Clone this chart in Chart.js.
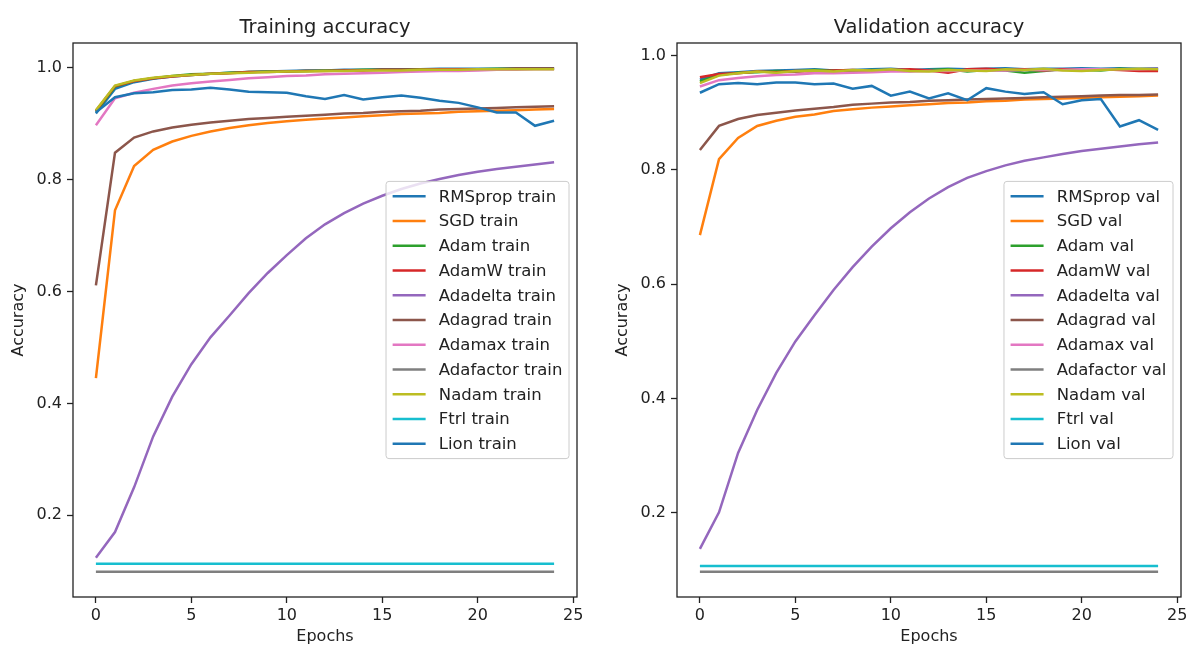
<!DOCTYPE html>
<html>
<head>
<meta charset="utf-8">
<script src="https://cdn.jsdelivr.net/npm/chart.js@4.4.1/dist/chart.umd.min.js"></script>
<style>
  html, body { margin: 0; padding: 0; background: #fff; }
  body { width: 1187px; height: 646px; position: relative; overflow: hidden; }
  canvas { position: absolute; top: 0; }
  #trainChart { left: 0; }
  #valChart { left: 604px; }
</style>
</head>
<body>
<canvas id="trainChart" width="600" height="646"></canvas>
<canvas id="valChart" width="583" height="646"></canvas>
<script>
const epochs = [0, 1, 2, 3, 4, 5, 6, 7, 8, 9, 10, 11, 12, 13, 14, 15, 16, 17, 18, 19, 20, 21, 22, 23, 24];
const optimizers = ['RMSprop', 'SGD', 'Adam', 'AdamW', 'Adadelta', 'Adagrad', 'Adamax', 'Adafactor', 'Nadam', 'Ftrl', 'Lion'];
const lineColors = ['#1f77b4', '#ff7f0e', '#2ca02c', '#d62728', '#9467bd', '#8c564b', '#e377c2', '#7f7f7f', '#bcbd22', '#17becf', '#1f77b4'];
const epochTicks = [0, 5, 10, 15, 20, 25];
const accuracyTicks = [0.2, 0.4, 0.6, 0.8, 1.0];

// training accuracy per epoch
const rmspropTrain = [0.918, 0.962, 0.974, 0.980, 0.984, 0.987, 0.989, 0.991, 0.992, 0.993, 0.994, 0.995, 0.995, 0.996, 0.996, 0.997, 0.997, 0.997, 0.998, 0.998, 0.998, 0.998, 0.999, 0.999, 0.999];
const sgdTrain = [0.445, 0.745, 0.824, 0.853, 0.868, 0.878, 0.886, 0.892, 0.897, 0.901, 0.904, 0.907, 0.909, 0.911, 0.913, 0.915, 0.917, 0.918, 0.919, 0.921, 0.922, 0.923, 0.924, 0.925, 0.926];
const adamTrain = [0.921, 0.966, 0.976, 0.981, 0.985, 0.988, 0.989, 0.991, 0.992, 0.993, 0.993, 0.994, 0.995, 0.995, 0.996, 0.996, 0.996, 0.997, 0.997, 0.997, 0.997, 0.998, 0.998, 0.998, 0.998];
const adamwTrain = [0.923, 0.967, 0.976, 0.981, 0.984, 0.987, 0.989, 0.990, 0.992, 0.992, 0.993, 0.994, 0.994, 0.995, 0.995, 0.996, 0.996, 0.996, 0.997, 0.997, 0.997, 0.997, 0.998, 0.998, 0.998];
const adadeltaTrain = [0.124, 0.170, 0.250, 0.341, 0.412, 0.470, 0.518, 0.557, 0.597, 0.633, 0.665, 0.695, 0.720, 0.740, 0.757, 0.771, 0.783, 0.793, 0.801, 0.808, 0.814, 0.819, 0.823, 0.827, 0.831];
const adagradTrain = [0.611, 0.848, 0.875, 0.886, 0.893, 0.898, 0.902, 0.905, 0.908, 0.910, 0.912, 0.914, 0.916, 0.918, 0.919, 0.921, 0.922, 0.923, 0.925, 0.926, 0.927, 0.928, 0.929, 0.930, 0.931];
const adamaxTrain = [0.897, 0.945, 0.955, 0.962, 0.968, 0.972, 0.975, 0.978, 0.981, 0.983, 0.985, 0.986, 0.988, 0.989, 0.990, 0.991, 0.992, 0.993, 0.994, 0.994, 0.995, 0.996, 0.996, 0.997, 0.997];
const adafactorTrain = [0.099, 0.099, 0.099, 0.099, 0.099, 0.099, 0.099, 0.099, 0.099, 0.099, 0.099, 0.099, 0.099, 0.099, 0.099, 0.099, 0.099, 0.099, 0.099, 0.099, 0.099, 0.099, 0.099, 0.099, 0.099];
const nadamTrain = [0.924, 0.968, 0.977, 0.982, 0.985, 0.987, 0.989, 0.990, 0.991, 0.992, 0.993, 0.993, 0.994, 0.994, 0.995, 0.995, 0.995, 0.996, 0.996, 0.996, 0.997, 0.997, 0.997, 0.997, 0.997];
const ftrlTrain = [0.1135, 0.1135, 0.1135, 0.1135, 0.1135, 0.1135, 0.1135, 0.1135, 0.1135, 0.1135, 0.1135, 0.1135, 0.1135, 0.1135, 0.1135, 0.1135, 0.1135, 0.1135, 0.1135, 0.1135, 0.1135, 0.1135, 0.1135, 0.1135, 0.1135];
const lionTrain = [0.920, 0.947, 0.954, 0.956, 0.960, 0.961, 0.964, 0.961, 0.957, 0.956, 0.955, 0.949, 0.944, 0.951, 0.943, 0.947, 0.950, 0.946, 0.941, 0.937, 0.929, 0.920, 0.920, 0.896, 0.905];

// validation accuracy per epoch
const rmspropVal = [0.958, 0.969, 0.971, 0.973, 0.974, 0.975, 0.976, 0.974, 0.975, 0.976, 0.977, 0.975, 0.976, 0.977, 0.976, 0.977, 0.978, 0.976, 0.977, 0.977, 0.978, 0.977, 0.978, 0.977, 0.978];
const sgdVal = [0.686, 0.819, 0.856, 0.877, 0.886, 0.893, 0.897, 0.903, 0.906, 0.909, 0.911, 0.913, 0.915, 0.917, 0.918, 0.920, 0.921, 0.923, 0.924, 0.925, 0.926, 0.927, 0.928, 0.929, 0.930];
const adamVal = [0.955, 0.966, 0.970, 0.971, 0.973, 0.972, 0.975, 0.974, 0.973, 0.975, 0.974, 0.973, 0.975, 0.976, 0.972, 0.975, 0.974, 0.970, 0.973, 0.976, 0.975, 0.974, 0.977, 0.975, 0.976];
const adamwVal = [0.962, 0.968, 0.969, 0.972, 0.971, 0.973, 0.972, 0.974, 0.975, 0.973, 0.975, 0.976, 0.974, 0.970, 0.976, 0.977, 0.975, 0.976, 0.974, 0.976, 0.975, 0.976, 0.975, 0.973, 0.973];
const adadeltaVal = [0.137, 0.201, 0.305, 0.380, 0.445, 0.500, 0.546, 0.590, 0.630, 0.666, 0.698, 0.726, 0.750, 0.770, 0.786, 0.798, 0.808, 0.816, 0.822, 0.828, 0.833, 0.837, 0.841, 0.845, 0.848];
const adagradVal = [0.835, 0.877, 0.889, 0.896, 0.900, 0.904, 0.907, 0.910, 0.914, 0.916, 0.918, 0.919, 0.921, 0.922, 0.923, 0.924, 0.925, 0.926, 0.927, 0.928, 0.929, 0.930, 0.931, 0.931, 0.932];
const adamaxVal = [0.946, 0.957, 0.961, 0.964, 0.966, 0.967, 0.969, 0.969, 0.970, 0.971, 0.972, 0.972, 0.973, 0.973, 0.974, 0.974, 0.974, 0.975, 0.975, 0.975, 0.976, 0.976, 0.976, 0.976, 0.977];
const adafactorVal = [0.097, 0.097, 0.097, 0.097, 0.097, 0.097, 0.097, 0.097, 0.097, 0.097, 0.097, 0.097, 0.097, 0.097, 0.097, 0.097, 0.097, 0.097, 0.097, 0.097, 0.097, 0.097, 0.097, 0.097, 0.097];
const nadamVal = [0.952, 0.965, 0.969, 0.972, 0.970, 0.973, 0.974, 0.972, 0.975, 0.974, 0.976, 0.973, 0.972, 0.975, 0.974, 0.973, 0.976, 0.975, 0.977, 0.974, 0.973, 0.975, 0.976, 0.977, 0.976];
const ftrlVal = [0.107, 0.107, 0.107, 0.107, 0.107, 0.107, 0.107, 0.107, 0.107, 0.107, 0.107, 0.107, 0.107, 0.107, 0.107, 0.107, 0.107, 0.107, 0.107, 0.107, 0.107, 0.107, 0.107, 0.107, 0.107];
const lionVal = [0.935, 0.950, 0.952, 0.950, 0.953, 0.953, 0.950, 0.951, 0.942, 0.947, 0.930, 0.937, 0.925, 0.934, 0.922, 0.943, 0.937, 0.933, 0.936, 0.915, 0.922, 0.924, 0.876, 0.887, 0.870];

const trainSeries = [rmspropTrain, sgdTrain, adamTrain, adamwTrain, adadeltaTrain, adagradTrain, adamaxTrain, adafactorTrain, nadamTrain, ftrlTrain, lionTrain];
const valSeries = [rmspropVal, sgdVal, adamVal, adamwVal, adadeltaVal, adagradVal, adamaxVal, adafactorVal, nadamVal, ftrlVal, lionVal];

const FONT = '"DejaVu Sans", sans-serif';
const INK = '#222';

// autoscale with a 5% margin on each side
const paddedRange = (values) => {
    const lo = Math.min(...values);
    const hi = Math.max(...values);
    const m = (hi - lo) * 0.05;
    return [lo - m, hi + m];
};

// frame, title and in-axes legend
const decorPlugin = {
    id: 'decor',
    afterDatasetsDraw(chart, args, opts) {
        const { ctx, chartArea: a } = chart;
        ctx.save();

        ctx.strokeStyle = INK;
        ctx.lineWidth = 1.3;
        ctx.strokeRect(a.left, a.top, a.right - a.left, a.bottom - a.top);

        ctx.fillStyle = INK;
        ctx.font = `19.5px ${FONT}`;
        ctx.textAlign = 'center';
        ctx.textBaseline = 'alphabetic';
        ctx.fillText(opts.title, (a.left + a.right) / 2, a.top - 10);

        const f = 16.5;
        const bp = 0.4 * f, hl = 2 * f, tp = 0.8 * f, ls = 0.5 * f;
        const labels = chart.data.datasets.map(d => d.label);
        ctx.font = `${f}px ${FONT}`;
        const textW = Math.max(...labels.map(l => ctx.measureText(l).width));
        const w = bp + hl + tp + textW + bp;
        const h = 2 * bp + labels.length * f + (labels.length - 1) * ls;
        const right = a.right - 8;
        const left = right - w;
        const top = (a.top + a.bottom) / 2 - h / 2;

        ctx.beginPath();
        ctx.roundRect(left, top, w, h, 3);
        ctx.fillStyle = 'rgba(255,255,255,0.8)';
        ctx.fill();
        ctx.strokeStyle = '#cccccc';
        ctx.lineWidth = 1;
        ctx.stroke();

        ctx.textAlign = 'left';
        ctx.textBaseline = 'middle';
        chart.data.datasets.forEach((d, i) => {
            const cy = top + bp + f / 2 + i * (f + ls);
            ctx.strokeStyle = d.borderColor;
            ctx.lineWidth = 2.5;
            ctx.beginPath();
            ctx.moveTo(left + bp, cy);
            ctx.lineTo(left + bp + hl, cy);
            ctx.stroke();
            ctx.fillStyle = INK;
            ctx.fillText(d.label, left + bp + hl + tp, cy + 1);
        });
        ctx.restore();
    }
};

const createAccuracyChart = (canvasId, series, suffix, title, padRight) => {
    const ctx = document.getElementById(canvasId).getContext('2d');
    const [xMin, xMax] = paddedRange(epochs);
    const [yMin, yMax] = paddedRange(series.flat());

    const tickStyle = { color: INK, font: { family: FONT, size: 16 } };
    const gridStyle = { drawOnChartArea: false, drawTicks: true, tickLength: 6, tickColor: INK, tickWidth: 1.3 };

    return new Chart(ctx, {
        type: 'line',
        data: {
            datasets: optimizers.map((name, i) => ({
                label: `${name} ${suffix}`,
                data: epochs.map((e, j) => ({ x: e, y: series[i][j] })),
                borderColor: lineColors[i],
                borderWidth: 2.5,
                pointRadius: 0,
                tension: 0,
                fill: false,
                order: -i
            }))
        },
        options: {
            responsive: false,
            animation: false,
            devicePixelRatio: 1,
            layout: { padding: { left: 0, right: padRight, top: 43, bottom: 0 } },
            plugins: {
                legend: { display: false },
                tooltip: { enabled: false },
                decor: { title: title }
            },
            scales: {
                x: {
                    type: 'linear',
                    min: xMin,
                    max: xMax,
                    afterBuildTicks: (s) => { s.ticks = epochTicks.map(v => ({ value: v })); },
                    afterFit: (s) => { s.height = 49; s.paddingLeft = 0; s.paddingRight = 0; },
                    ticks: { ...tickStyle, padding: 3, maxRotation: 0 },
                    grid: gridStyle,
                    border: { display: false },
                    title: { display: true, text: 'Epochs', color: INK, font: { family: FONT, size: 16 }, padding: { top: 0, bottom: 0 } }
                },
                y: {
                    type: 'linear',
                    min: yMin,
                    max: yMax,
                    afterBuildTicks: (s) => { s.ticks = accuracyTicks.map(v => ({ value: v })); },
                    afterFit: (s) => { s.width = 73; },
                    ticks: { ...tickStyle, padding: 5, callback: (v) => v.toFixed(1) },
                    grid: gridStyle,
                    border: { display: false },
                    title: { display: true, text: 'Accuracy', color: INK, font: { family: FONT, size: 16 }, padding: { top: 9, bottom: 0 } }
                }
            }
        },
        plugins: [decorPlugin]
    });
};

createAccuracyChart('trainChart', trainSeries, 'train', 'Training accuracy', 23);
createAccuracyChart('valChart', valSeries, 'val', 'Validation accuracy', 6);
</script>
</body>
</html>
